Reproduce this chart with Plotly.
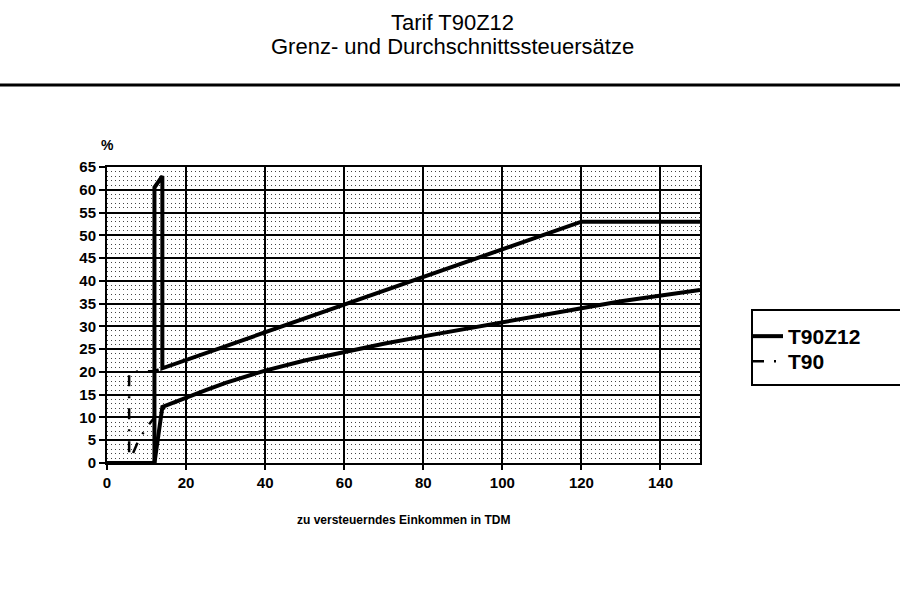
import plotly.graph_objects as go

# ---- data ----
x_t90z12_grenz = [0, 12, 12, 14, 14, 120, 150]
y_t90z12_grenz = [0, 0, 60.5, 63, 20.8, 53, 53]

x_t90z12_durch = [0, 12, 14, 20, 25, 30, 40, 50, 60, 70, 80, 90, 100, 110, 120, 130, 140, 150]
y_t90z12_durch = [0, 0, 12.3, 14.4, 16.0, 17.6, 20.3, 22.5, 24.4, 26.2, 27.8, 29.4, 31.0, 32.5, 34.0, 35.5, 36.8, 38.0]

x_t90_grenz = [0, 5.6, 5.6, 12, 120, 150]
y_t90_grenz = [0, 0, 20, 20.2, 53, 53]

x_t90_durch = [0, 5.6, 6.6, 8, 10, 12, 14, 20, 25, 30, 40, 50, 60, 70, 80, 90, 100, 110, 120, 130, 140, 150]
y_t90_durch = [0, 0, 2.2, 5.0, 7.8, 10.0, 11.8, 14.4, 16.0, 17.6, 20.3, 22.5, 24.4, 26.2, 27.8, 29.4, 31.0, 32.5, 34.0, 35.5, 36.8, 38.0]

x_ticks = [0, 20, 40, 60, 80, 100, 120, 140]
y_ticks = list(range(0, 70, 5))

title_lines = ["Tarif T90Z12", "Grenz- und Durchschnittssteuersätze"]

FONT = "Liberation Sans, Arial, sans-serif"
T90_DASH = "11px,10px,2px,10px"

fig = go.Figure()

# T90 (dash-dot) drawn first, underneath
fig.add_trace(go.Scatter(x=x_t90_grenz, y=y_t90_grenz, mode="lines", name="T90",
                         legend="legend2", legendgroup="t90", showlegend=True,
                         line=dict(color="black", width=2.5, dash=T90_DASH)))
fig.add_trace(go.Scatter(x=x_t90_durch, y=y_t90_durch, mode="lines", name="T90",
                         legend="legend2", legendgroup="t90", showlegend=False,
                         line=dict(color="black", width=2.5, dash=T90_DASH)))
# T90Z12 (solid, thick)
fig.add_trace(go.Scatter(x=x_t90z12_grenz, y=y_t90z12_grenz, mode="lines", name="T90Z12",
                         legend="legend", legendgroup="z12", showlegend=True,
                         line=dict(color="black", width=4)))
fig.add_trace(go.Scatter(x=x_t90z12_durch, y=y_t90z12_durch, mode="lines", name="T90Z12",
                         legend="legend", legendgroup="z12", showlegend=False,
                         line=dict(color="black", width=4)))

L, R, T, B = 107, 200, 167, 145
W, H = 900, 608
pw = W - L - R
ph = H - T - B

def px2paper_x(px):
    return (px - L) / pw

def py2paper_y(py):
    return (H - B - py) / ph

tickfont = dict(family=FONT, size=15, color="black", weight="bold")
legfont = dict(family=FONT, size=21, color="black", weight="bold")

fig.update_layout(
    template="simple_white",
    width=W, height=H,
    margin=dict(l=L, r=R, t=T, b=B, autoexpand=False),
    paper_bgcolor="white", plot_bgcolor="white",
    font=dict(family=FONT, color="black"),
    legend=dict(x=px2paper_x(748), y=py2paper_y(316), xanchor="left", yanchor="top",
                borderwidth=0, bgcolor="rgba(0,0,0,0)", itemwidth=30, font=legfont),
    legend2=dict(x=px2paper_x(748), y=py2paper_y(341), xanchor="left", yanchor="top",
                 borderwidth=0, bgcolor="rgba(0,0,0,0)", itemwidth=30, font=legfont),
    xaxis=dict(range=[0, 150], tickvals=x_ticks, ticktext=[str(v) for v in x_ticks],
               showgrid=True, gridcolor="black", gridwidth=2,
               showline=True, linecolor="black", linewidth=2, mirror=True,
               ticks="outside", ticklen=5, tickwidth=2, tickcolor="black",
               zeroline=False, automargin=False,
               tickfont=tickfont,
               minor=dict(dtick=1, showgrid=False, ticks="")),
    yaxis=dict(range=[0, 65], tickvals=y_ticks, ticktext=[str(v) for v in y_ticks],
               showgrid=True, gridcolor="black", gridwidth=2,
               showline=True, linecolor="black", linewidth=2, mirror=True,
               ticks="outside", ticklen=6, tickwidth=2, tickcolor="black",
               zeroline=False, automargin=False,
               tickfont=tickfont,
               minor=dict(dtick=1, showgrid=True, gridcolor="#444444", ticks="",
                          gridwidth=1, griddash="1px,3px")),
    showlegend=True,
)

# legend frame (extends to the right edge as in the original)
fig.add_shape(type="rect", xref="paper", yref="paper",
              x0=px2paper_x(752), x1=px2paper_x(906),
              y0=py2paper_y(385), y1=py2paper_y(310),
              line=dict(color="black", width=2), fillcolor="rgba(0,0,0,0)",
              opacity=1, layer="above")

# two-line title
for txt, py in zip(title_lines, [22, 47]):
    fig.add_annotation(text=txt, xref="paper", yref="paper",
                       x=px2paper_x(452), y=py2paper_y(py), xanchor="center", yanchor="middle",
                       showarrow=False,
                       font=dict(family=FONT, size=22, color="black"))

# horizontal rule under the title
fig.add_shape(type="line", xref="paper", yref="paper",
              x0=px2paper_x(0), x1=px2paper_x(900),
              y0=py2paper_y(85), y1=py2paper_y(85),
              line=dict(color="black", width=3), opacity=1, layer="above")

fig.add_annotation(text="%", xref="paper", yref="paper",
                   x=0, y=py2paper_y(145), xanchor="center", yanchor="middle",
                   showarrow=False,
                   font=dict(family=FONT, size=14, color="black", weight="bold"))

fig.add_annotation(text="zu versteuerndes Einkommen in TDM", xref="paper", yref="paper",
                   x=px2paper_x(403), y=py2paper_y(520), xanchor="center", yanchor="middle",
                   showarrow=False,
                   font=dict(family=FONT, size=12, color="black", weight="bold"))

fig.write_html("out.html", post_script="document.body.style.margin='0';",
               config={"displayModeBar": False})
